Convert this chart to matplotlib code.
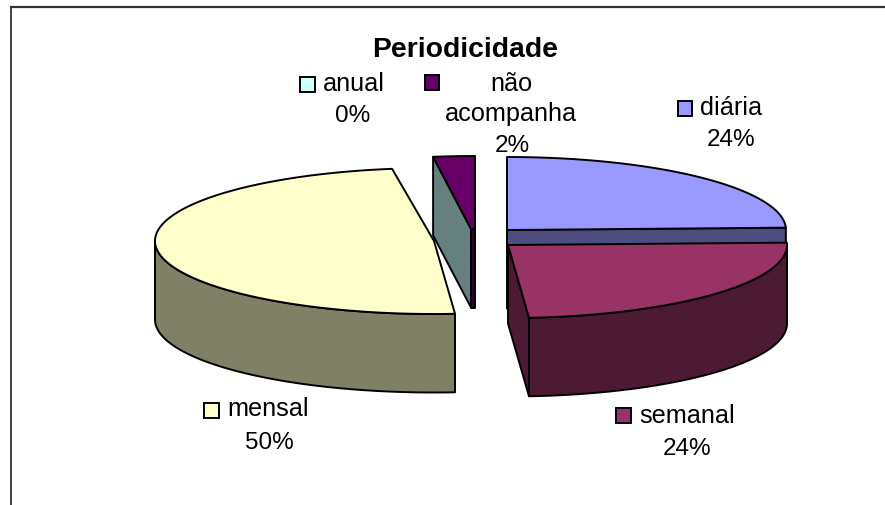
import numpy as np
import matplotlib
matplotlib.use("Agg")
import matplotlib.pyplot as plt
from matplotlib.patches import Polygon, Rectangle

plt.rcParams["font.family"] = ["Liberation Sans", "DejaVu Sans"]

categories = ["diária", "semanal", "mensal", "anual", "não\nacompanha"]
values = [24.49, 24.31, 48.8, 0.0, 2.4]
pct_labels = ["24%", "24%", "50%", "0%", "2%"]

top_colors = ["#9999FF", "#993366", "#FFFFCC", "#CCFFFF", "#660066"]
side_colors = ["#4D4D80", "#4D1A33", "#808066", "#668080", "#330033"]

# exploded slice apex in pixels
centers = [(507, 230), (508, 245), (434, 241), (475, 229), (475, 229)]
RX, RY, DEPTH = 279, 73, 78.5
LW = 1.4

fig = plt.figure(figsize=(8.85, 5.05), dpi=100)
ax = fig.add_axes([0, 0, 1, 1])
ax.set_xlim(0, 885)
ax.set_ylim(505, 0)
ax.axis("off")

ang = np.cumsum([0] + values) / sum(values) * 360


def pt(c, a):
    a = np.radians(a)
    return np.column_stack([c[0] + RX * np.sin(a), c[1] - RY * np.cos(a)])


def arc(c, a0, a1):
    return pt(c, np.linspace(a0, a1, max(int(abs(a1 - a0)) * 2, 2)))


def draw_poly(xy, color, z):
    ax.add_patch(Polygon(xy, closed=True, fc=color, ec="black", lw=LW, joinstyle="round", zorder=z))


def down(xy):
    return xy + np.array([0, DEPTH])


ax.plot([10.5, 10.5], [505, 6.5], color="#222222", lw=1.2, zorder=1)
ax.plot([10.5, 885], [6.5, 6.5], color="#333333", lw=1.6, zorder=1)

# diária
c = centers[0]
front = pt(c, np.array([ang[1]]))
band = np.vstack([[c], front, down(front), down([c])])
draw_poly(band, side_colors[0], 2)
draw_poly(np.vstack([[c], arc(c, ang[0], ang[1])]), top_colors[0], 3)

# semanal
c = centers[1]
a_end = pt(c, np.array([ang[2]]))
draw_poly(np.vstack([[c], a_end, down(a_end), down([c])]), side_colors[1], 4)
a = arc(c, 90, ang[2])
draw_poly(np.vstack([a, down(a)[::-1]]), side_colors[1], 5)
draw_poly(np.vstack([[c], arc(c, ang[1], ang[2])]), top_colors[1], 6)

# mensal
c = centers[2]
a = arc(c, ang[2], 270)
draw_poly(np.vstack([a, down(a)[::-1]]), side_colors[2], 4)
draw_poly(np.vstack([[c], arc(c, ang[2], ang[3])]), top_colors[2], 5)

# anual has no width, only its cut face shows
c = centers[3]
tip = (c[0] - 4, c[1])
edge = pt(c, np.array([ang[3]]))
draw_poly(np.vstack([edge, [tip], down([tip]), down(edge)]), side_colors[3], 7)

# não acompanha
c = centers[4]
draw_poly(np.array([tip, c, down([c])[0], down([tip])[0]]), side_colors[4], 8)
draw_poly(np.vstack([[tip], arc(c, ang[4], ang[5]), [c]]), top_colors[4], 9)

ax.text(465, 50, "Periodicidade", fontsize=20.4, fontweight="bold", ha="center", va="center", zorder=10)

# key square, name centre, percent centre (x, y)
label_pos = [
    ((677.5, 101), (731, 108), (731, 140)),
    ((616, 408), (687, 416), (687, 449)),
    ((204, 403), (268, 409), (269, 443)),
    ((300, 77), (354, 84), (353, 116)),
    ((424.5, 75), (511, 99), (512, 146)),
]
for i, name in enumerate(categories):
    key, name_xy, pct_xy = label_pos[i]
    ax.add_patch(Rectangle(key, 14.5, 14.5, fc=top_colors[i], ec="black", lw=LW, zorder=10))
    ax.text(name_xy[0], name_xy[1], name, fontsize=18.2, ha="center", va="center", linespacing=1.27, zorder=10)
    ax.text(pct_xy[0], pct_xy[1], pct_labels[i], fontsize=17.5, ha="center", va="center", zorder=10)

fig.savefig("out.png", dpi=100)
